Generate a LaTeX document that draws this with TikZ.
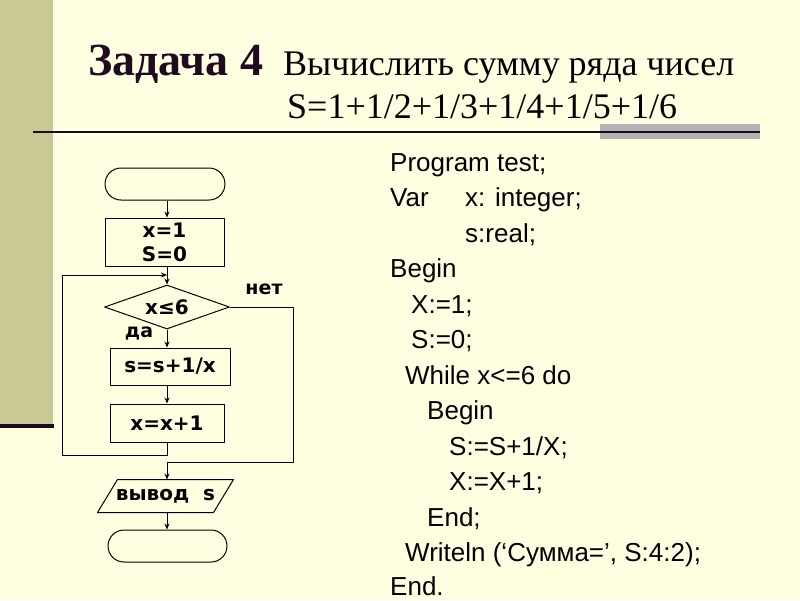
\documentclass[tikz,border=0pt]{standalone}
\usepackage{fontspec}
\usepackage{tikz}
\usetikzlibrary{arrows.meta,shapes.geometric}
\newfontfamily\titlefont{Liberation Serif}
\newfontfamily\codefont{Liberation Sans}
\newfontfamily\chartfont{DejaVu Sans}
\definecolor{paper}{HTML}{FFFFE2}
\definecolor{band}{HTML}{C9C996}
\definecolor{barg}{HTML}{B3B3B3}
\definecolor{rule}{HTML}{200A20}
\tikzset{
  every picture/.style={line join=round, >={Stealth[length=6pt,width=5pt]}},
  chart/.style={font=\chartfont\bfseries\fontsize{20}{24}\selectfont, line width=1pt},
  term/.style={draw, rounded corners=16pt, minimum width=120pt, minimum height=32pt},
  box/.style={draw, align=center, inner sep=2pt},
  cond/.style={draw, diamond, aspect=2.8, inner sep=0pt, minimum width=125pt, minimum height=44pt},
  io/.style={inner sep=0pt, minimum width=115pt, minimum height=32pt},
  tag/.style={font=\chartfont\bfseries\fontsize{19}{22}\selectfont},
  code/.style={font=\codefont\fontsize{26}{30}\selectfont, anchor=base west, inner sep=0pt},
}

\begin{document}
\begin{tikzpicture}[x=1pt,y=-1pt]
\useasboundingbox (0,0) rectangle (800,600);
\fill[paper] (0,0) rectangle (800,600);
% side band and rules
\fill[band] (0,0) rectangle (53,424);
\fill[rule] (0,424) rectangle (54,428);
\fill[barg] (600,124) rectangle (760,139);
\draw[rule, line width=2pt] (33,132) -- (760,132);
% title
\node[anchor=base west, inner sep=0pt, font=\titlefont\bfseries\fontsize{46}{50}\selectfont, text=rule] (task) at (88,75) {Задача 4};
\node[anchor=base west, inner sep=0pt, font=\titlefont\fontsize{36}{40}\selectfont] (head) at (283,75) {Вычислить сумму ряда чисел};
\node[anchor=base west, inner sep=0pt, font=\titlefont\fontsize{36}{40}\selectfont] (sum) at (287,118) {S=1+1/2+1/3+1/4+1/5+1/6};
% flowchart
\begin{scope}[chart]
\node[term] (start) at (165,184) {};
\node[box, minimum width=119pt, minimum height=48pt] (init) at (164.5,242) {x=1\\S=0};
\node[cond] (test) at (167,307) {x≤6};
\node[box, minimum width=120pt, minimum height=37pt] (add) at (170,366.5) {s=s+1/x};
\node[box, minimum width=114pt, minimum height=38pt] (inc) at (167,423) {x=x+1};
\node[io] (out) at (165.5,496) {вывод\ \ s};
\draw ([xshift=-10pt]out.south west) -- ([xshift=10pt]out.north west)
  -- ([xshift=10pt]out.north east) -- ([xshift=-10pt]out.south east) -- cycle;
\node[term, minimum width=119pt] (stop) at (167.5,546) {};
\node[tag] (no) at (264,289) {нет};
\node[tag] (yes) at (139,333) {да};
\coordinate (join) at (167,275);
\draw[->] (start.south -| 167,0) -- (init.north -| 167,0);
\draw[->] (init.south -| 167,0) -- (test.north);
\draw[->] (test.south) -- (add.north -| test.south);
\draw[->] (add.south -| inc.north) -- (inc.north);
\draw[->] (inc.south) -- (167,455) -- (62,455) -- (62,275) -- (join);
\draw[->] (test.east) -- (293,307) -- (293,462) -- (167,462) -- (out.north -| 167,0);
\draw[->] (out.south -| 167,0) -- (stop.north -| 167,0);
\end{scope}
% program text
\node[code] (l1) at (390,171) {Program test;};
\node[code] (l2) at (390,206.5) {Var};
\node[code] (l2b) at (465,206.5) {x: integer;};
\node[code] (l3) at (465,242) {s:real;};
\node[code] (l4) at (390,277.5) {Begin};
\node[code] (l5) at (411,313) {X:=1;};
\node[code] (l6) at (411,348.5) {S:=0;};
\node[code] (l7) at (405,384) {While x<=6 do};
\node[code] (l8) at (427,419.5) {Begin};
\node[code] (l9) at (449,455) {S:=S+1/X;};
\node[code] (l10) at (449,490.5) {X:=X+1;};
\node[code] (l11) at (427,526) {End;};
\node[code] (l12) at (405,561.5) {Writeln (‘Сумма=’, S:4:2);};
\node[code] (l13) at (390,595) {End.};
\end{tikzpicture}
\end{document}
